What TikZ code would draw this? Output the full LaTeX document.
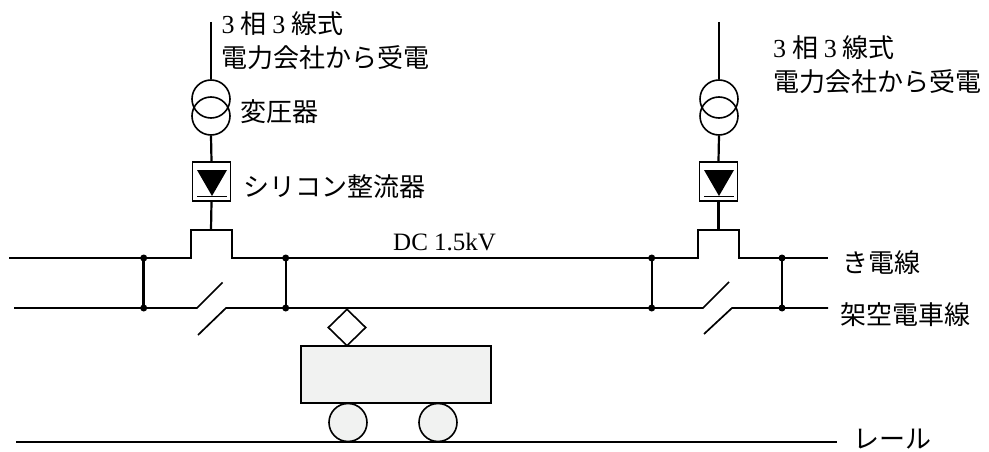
\documentclass[tikz,border=0pt]{standalone}
\usepackage{fontspec}
\setmainfont{Liberation Serif}
\newfontfamily\jp{Noto Sans CJK JP}
\usetikzlibrary{shapes.geometric}
\definecolor{carfill}{HTML}{F1F2F1}
\begin{document}
\begin{tikzpicture}[x=1pt,y=-1pt,
  feeder/.style={line width=2.6pt,line join=miter},
  trolley/.style={line width=1.7pt},
  feedline/.style={line width=2.2pt},
  xfmr/.style={circle,draw,line width=1.6pt,minimum size=38pt,inner sep=0pt},
  rectbox/.style={draw,line width=1.6pt,minimum width=38pt,minimum height=39pt,inner sep=0pt},
  dot/.style={circle,fill,minimum size=7pt,inner sep=0pt},
  lbl/.style={anchor=west,inner sep=0pt,font=\fontsize{26}{30}\selectfont\jp},
  num/.style={anchor=west,inner sep=0pt,font=\fontsize{25}{30}\selectfont},
  outline/.style={draw,line width=1.6pt,inner sep=0pt},
  railstyle/.style={line width=1.7pt}]
\useasboundingbox (0,0) rectangle (989,452);

% ---- substation 1 ----
\coordinate (in1) at (211,22);
\node[xfmr] (t1a) at (211,99) {};
\node[xfmr] (t1b) at (211,116) {};
\node[rectbox] (r1) at (211.5,181.5) {};
\fill (197,170) -- (227,170) -- (212,196) -- cycle;
\draw[line width=1.8pt] (197,196.5) -- (227,196.5);
\coordinate (b1) at (211,230);
\draw[feedline] (in1) -- (t1a.north);
\draw[feedline] (t1b.south) -- (r1.north);
\draw[feedline] (r1.south) -- (b1);

% ---- substation 2 ----
\coordinate (in2) at (719,22);
\node[xfmr] (t2a) at (719,99) {};
\node[xfmr] (t2b) at (719,116) {};
\node[rectbox] (r2) at (718.5,181.5) {};
\fill (704,170) -- (734,170) -- (719,196) -- cycle;
\draw[line width=1.8pt] (704,196.5) -- (734,196.5);
\coordinate (b2) at (718.5,230);
\draw[feedline] (in2) -- (t2a.north);
\draw[feedline] (t2b.south) -- (r2.north);
\draw[feedline] (r2.south) -- (b2);

% ---- feeder line with the two bumps ----
\coordinate (fL) at (9,258);
\coordinate (fR) at (828,258);
\draw[feeder] (fL) -- (191,258) -- (191,230) -- (232,230) -- (232,258)
  -- (698,258) -- (698,230) -- (739,230) -- (739,258) -- (fR);

% ---- trolley wire with section gaps ----
\coordinate (tL) at (14,308);
\coordinate (tR) at (828,308);
\draw[trolley] (tL) -- (197,308) -- (222.5,282.5);
\draw[trolley] (198,335) -- (226,308) -- (703,308) -- (729,282);
\draw[trolley] (704,334) -- (732,308) -- (tR);

% ---- ties between feeder and trolley ----
\foreach \x/\w [count=\i] in {143.7/2.5pt,285.7/2pt,651.7/2.3pt,782/2.3pt}{
  \node[dot] (fa\i) at (\x,258) {};
  \node[dot] (ta\i) at (\x,308) {};
  \draw[line width=\w] (fa\i.center) -- (ta\i.center);
}

% ---- train ----
\node[diamond,outline,minimum width=38pt,minimum height=37pt] (panto) at (347,327.5) {};
\node[outline,fill=carfill,minimum width=190pt,minimum height=57pt] (car) at (396,374.5) {};
\node[circle,outline,fill=carfill,minimum size=38pt] (w1) at (348,422.5) {};
\node[circle,outline,fill=carfill,minimum size=38pt] (w2) at (438,422.5) {};

% ---- rail ----
\coordinate (rL) at (16,442);
\coordinate (rR) at (837,442);
\draw[railstyle] (rL) -- (rR);

% ---- labels ----
\node[lbl] (s1a) at (221.5,24) {{\rmfamily 3} 相 {\rmfamily 3} 線式};
\node[lbl] (s1b) at (221.5,57.5) {電力会社から受電};
\node[lbl] (s2a) at (773,48) {{\rmfamily 3} 相 {\rmfamily 3} 線式};
\node[lbl] (s2b) at (773,82) {電力会社から受電};
\node[lbl] (tr) at (240,112) {変圧器};
\node[lbl] (si) at (243,187) {シリコン整流器};
\node[num] (dc) at (393,242.5) {DC 1.5kV};
\node[lbl] (kd) at (842,263) {き電線};
\node[lbl] (kk) at (840,315) {架空電車線};
\node[lbl] (rl) at (853,439) {レール};
\end{tikzpicture}
\end{document}
